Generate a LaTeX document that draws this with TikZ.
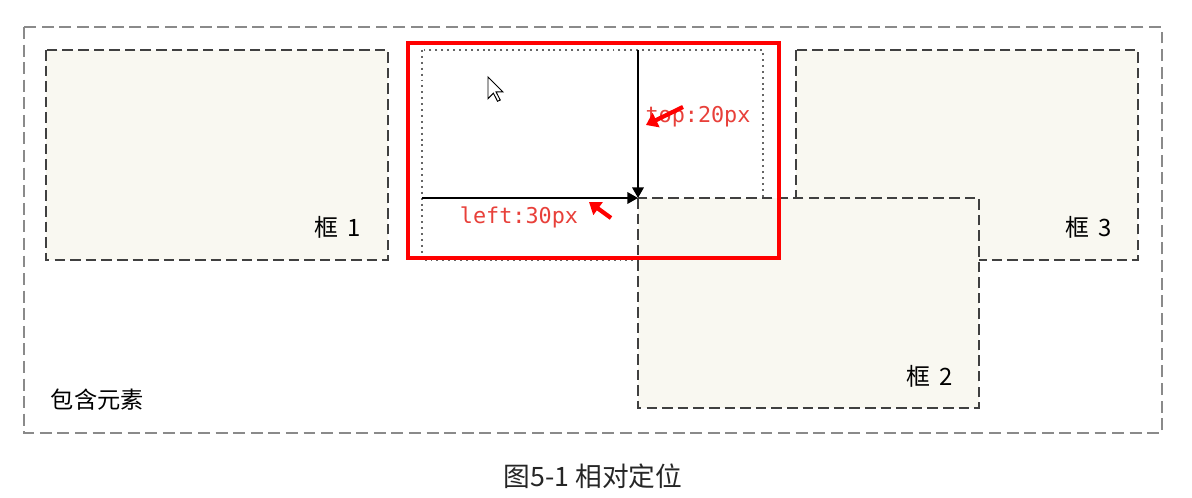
\documentclass[tikz,border=0pt]{standalone}
\usepackage{fontspec}
\setmainfont{DejaVu Sans}
\newfontfamily\cjkfont{Noto Sans CJK SC}
\newfontfamily\pixfont{DejaVu Sans Mono}
\usetikzlibrary{arrows.meta}
\definecolor{boxfill}{HTML}{F9F8F1}
\definecolor{boxline}{HTML}{404040}
\definecolor{frameline}{HTML}{8A8A8A}
\definecolor{marknote}{HTML}{E8403A}
\begin{document}
\begin{tikzpicture}[x=0.025cm, y=-0.025cm,
		container/.style={draw=frameline, line width=1.3pt, dash pattern=on 8.5pt off 4pt},
		floatbox/.style={draw=boxline, fill=boxfill, line width=1.8pt, dash pattern=on 7.5pt off 3.6pt},
		ghost/.style={draw=boxline!80, line width=1.4pt, dash pattern=on 1.4pt off 2.8pt},
		offset/.style={line width=1.7pt, -{Triangle[length=7.5pt, width=8pt]}},
		pointer/.style={draw=red, line width=3pt, -{Triangle[length=8pt, width=11pt]}},
		boxlabel/.style={font=\cjkfont\fontsize{17}{17}\selectfont, anchor=base east},
		note/.style={text=marknote, font=\pixfont\fontsize{15.5}{15.5}\selectfont}]
		\fill[white] (0,0) rectangle (1192,498);
		\useasboundingbox (0,0) rectangle (1192,498);
		\draw[container] (24,27) rectangle (1162,433);
		\draw (46,400) node[anchor=west, font=\cjkfont\fontsize{16.5}{16.5}\selectfont] (holder) {包含元素};
		\draw[floatbox] (46,50) rectangle (388,260);
		\draw[floatbox] (796,50) rectangle (1138,260);
		\draw[ghost] (422,50) rectangle (763,260);
		\draw[floatbox] (638,198) rectangle (979,408);
		\draw (366,237) node[boxlabel] (label1) {框\hspace{0.4em}1};
		\draw (958,386) node[boxlabel] (label2) {框\hspace{0.4em}2};
		\draw (1117,237) node[boxlabel] (label3) {框\hspace{0.4em}3};
		\coordinate (origin) at (422,198);
		\coordinate (shifted) at (638,198);
		\coordinate (topstart) at (638,50);
		\draw[offset] (origin) -- (shifted);
		\draw[offset] (topstart) -- (shifted);
		\draw[fill=white, line width=0.7pt, shift={(488,77)}] (0,0) -- (0,21.6) -- (5.4,16.2) -- (9.5,24.3) -- (12.2,23) -- (8.1,14.9) -- (14.9,14.9) -- cycle;
		\draw (519,217) node[note] (leftnote) {left:30px};
		\draw (698,117) node[note] (topnote) {top:20px};
		\coordinate (toptail) at (683,107);
		\coordinate (tophead) at (646,125);
		\coordinate (lefttail) at (611,218);
		\coordinate (lefthead) at (589,202);
		\draw[pointer] (toptail) -- (tophead);
		\draw[pointer] (lefttail) -- (lefthead);
		\draw[draw=red, line width=2.3pt] (408,43) rectangle (779,258);
		\draw (593,476) node[font=\cjkfont\fontsize{19}{19}\selectfont, text=black!85] (caption) {图5-1 相对定位};
	\end{tikzpicture}
\end{document}
